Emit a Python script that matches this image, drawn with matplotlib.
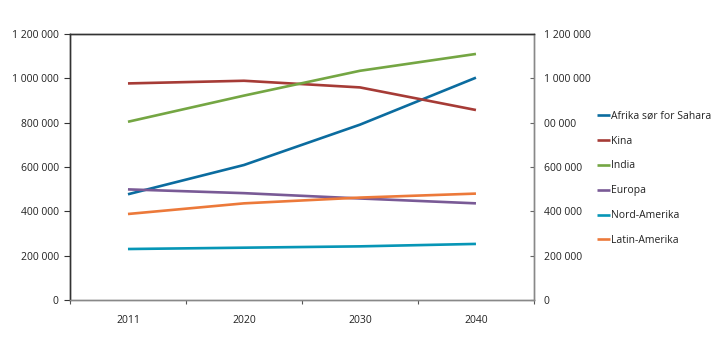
import matplotlib.pyplot as plt
import numpy as np

plt.rcParams['font.family'] = ['Open Sans', 'DejaVu Sans']

# Data
years = ['2011', '2020', '2030', '2040']
afrika = [477000, 609000, 791000, 1003000]
kina = [977000, 989000, 959000, 857000]
india = [804000, 922000, 1034000, 1110000]
europa = [499000, 482000, 458000, 436000]
nord_amerika = [230000, 236000, 242000, 253000]
latin_amerika = [388000, 436000, 462000, 480000]

series = [
    ('Afrika sør for Sahara', afrika, '#0b6c9f'),
    ('Kina', kina, '#a63b36'),
    ('India', india, '#74a643'),
    ('Europa', europa, '#795a96'),
    ('Nord-Amerika', nord_amerika, '#0696b6'),
    ('Latin-Amerika', latin_amerika, '#ec793a'),
]

yticks = [0, 200000, 400000, 600000, 800000, 1000000, 1200000]
left_labels = ['0', '200 000', '400 000', '600 000', '800 000', '1 000 000', '1 200 000']
right_labels = ['0', '200 000', '400 000', '600 000', '00 000', '1 000 000', '1 200 000']

fig = plt.figure(figsize=(7.2, 3.44), dpi=100)
ax = fig.add_axes([0.0972, 0.1279, 0.6444, 0.7733])

x = np.arange(len(years))
for name, vals, color in series:
    ax.plot(x, vals, color=color, lw=1.9, label=name, solid_capstyle='butt')

ax.set_xlim(-0.5, len(years) - 0.5)
ax.set_ylim(0, 1200000)

# x ticks at category boundaries, labels at centres
ax.set_xticks(np.arange(len(years) + 1) - 0.5)
ax.set_xticklabels([])
ax.set_xticks(x, minor=True)
ax.set_xticklabels(years, minor=True)
ax.tick_params(axis='x', which='major', direction='out', length=3, color='#555555')
ax.tick_params(axis='x', which='minor', length=0, labelsize=7.5, pad=11, colors='#222222')

ax.set_yticks(yticks)
ax.set_yticklabels(left_labels)
ax.tick_params(axis='y', direction='out', length=4, labelsize=7.5, pad=4,
               color='#333333', labelcolor='#222222')

ax2 = ax.twinx()
ax2.set_ylim(ax.get_ylim())
ax2.set_yticks(yticks)
ax2.set_yticklabels(right_labels)
ax2.tick_params(axis='y', direction='in', length=3, labelsize=7.5, pad=7,
                color='#666666', labelcolor='#222222')

for a in (ax, ax2):
    a.spines['left'].set_color('#333333')
    a.spines['top'].set_color('#333333')
    a.spines['bottom'].set_color('#888888')
    a.spines['right'].set_color('#888888')
    for s in a.spines.values():
        s.set_linewidth(1.0)

ax.legend(loc='upper left', bbox_to_anchor=(1.126, 0.727), frameon=False,
          fontsize=7.5, handlelength=1.25, handletextpad=0.15, labelspacing=1.33,
          borderaxespad=0, labelcolor='#222222')

fig.savefig('out.png', dpi=100)
